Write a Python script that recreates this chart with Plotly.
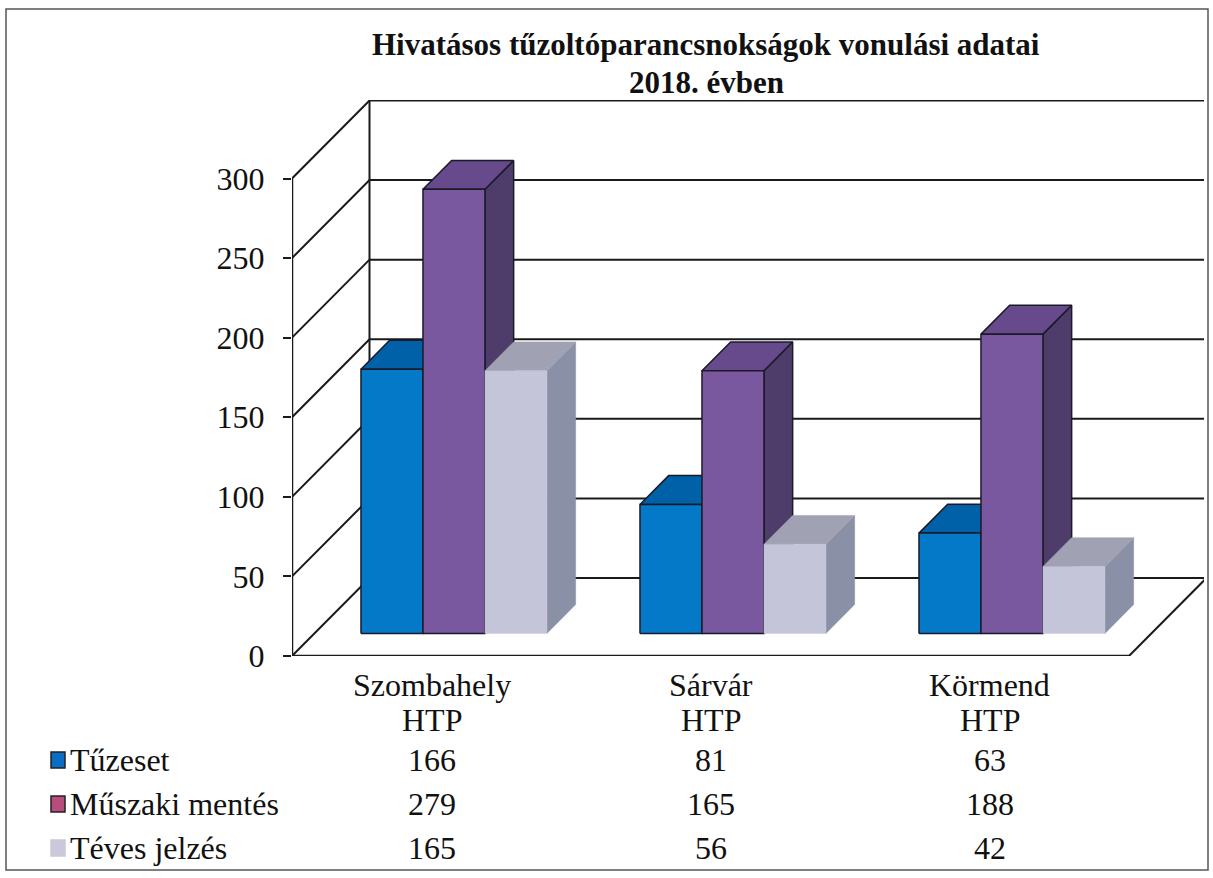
import plotly.graph_objects as go

# ---------------- data ----------------
categories = ["Szombahely", "Sárvár", "Körmend"]
category_line2 = ["HTP", "HTP", "HTP"]
series_names = ["Tűzeset", "Műszaki mentés", "Téves jelzés"]
tuzeset = [166, 81, 63]
muszaki_mentes = [279, 165, 188]
teves_jelzes = [165, 56, 42]
y_ticks = [0, 50, 100, 150, 200, 250, 300]
title_line1 = "Hivatásos tűzoltóparancsnokságok vonulási adatai"
title_line2 = "2018. évben"

series_values = [tuzeset, muszaki_mentes, teves_jelzes]

# ---------------- styling / geometry ----------------
W_FIG, H_FIG = 1213, 878
M_L, M_R, M_T, M_B = 292, 9, 100, 222
PLOT_W = W_FIG - M_L - M_R
PLOT_H = H_FIG - M_T - M_B
PX_PER_CAT = 279.0
PX_PER_VAL = 477.5 / 300.0
X_MIN = -0.5
X_MAX = X_MIN + PLOT_W / PX_PER_CAT
Y_MAX = PLOT_H / PX_PER_VAL

DX = 77.5 / PX_PER_CAT       # depth offset (x, data units)
DY = 78.0 / PX_PER_VAL       # depth offset (y, data units)
BAR_W = 62.0 / PX_PER_CAT
F0, F1 = 0.29, 0.66          # bar depth span (fractions of full depth)
G = F1 - F0

front_colors = ["#0479C8", "#7A58A0", "#C5C5DA"]
top_colors = ["#0060A8", "#664A8C", "#A1A1B4"]
side_colors = ["#004E8A", "#4E3D6B", "#8A90A6"]
edge_colors = ["#1b1b28", "#1b1b28", "rgba(0,0,0,0)"]
legend_colors = ["#0A6CC4", "#B84C7C", "#C9C9D9"]
GRID = "#1a1a1a"
SERIF = "Liberation Serif, Times New Roman, serif"
FS = 32


def px_to_paper_x(px):
    return (px - M_L) / PLOT_W


def px_to_paper_y(py):
    return (H_FIG - M_B - py) / PLOT_H


fig = go.Figure()

# ---------------- walls / grid ----------------
gx, gy = [], []
for v in y_ticks:
    gx += [X_MIN, X_MIN + DX, 2.5 + DX, None]
    gy += [v, v + DY, v + DY, None]
# back wall verticals
gx += [X_MIN + DX, X_MIN + DX, None, 2.5 + DX, 2.5 + DX, None]
gy += [DY, 300 + DY, None, DY, 300 + DY, None]
# floor right edge
gx += [2.5, 2.5 + DX, None]
gy += [0, DY, None]
fig.add_trace(go.Scatter(x=gx, y=gy, mode="lines",
                         line=dict(color=GRID, width=2),
                         hoverinfo="skip", showlegend=False))
# front axis line and floor front edge
fig.add_trace(go.Scatter(x=[X_MIN, X_MIN, None, X_MIN, 2.5],
                         y=[300, 0, None, 0, 0], mode="lines",
                         line=dict(color=GRID, width=2.5),
                         hoverinfo="skip", showlegend=False))

# ---------------- 3D bars ----------------
for j, vals in enumerate(series_values):
    fx, fy, tx, ty, sx, sy = [], [], [], [], [], []
    for i, v in enumerate(vals):
        x0 = i - 1.5 * BAR_W + j * BAR_W + F0 * DX
        x1 = x0 + BAR_W
        yb = F0 * DY
        yt = yb + v
        fx += [x0, x1, x1, x0, x0, None]
        fy += [yb, yb, yt, yt, yb, None]
        tx += [x0, x1, x1 + G * DX, x0 + G * DX, x0, None]
        ty += [yt, yt, yt + G * DY, yt + G * DY, yt, None]
        sx += [x1, x1, x1 + G * DX, x1 + G * DX, x1, None]
        sy += [yb, yt, yt + G * DY, yb + G * DY, yb, None]
    lw = 1.5 if j < 2 else 0.5
    for xs, ys, col in ((sx, sy, side_colors[j]), (tx, ty, top_colors[j]),
                        (fx, fy, front_colors[j])):
        fig.add_trace(go.Scatter(x=xs, y=ys, mode="lines", fill="toself",
                                 fillcolor=col,
                                 line=dict(color=edge_colors[j] if j < 2 else col, width=lw),
                                 hoverinfo="skip", showlegend=False,
                                 name=series_names[j]))

# ---------------- text ----------------
ann = []
ann.append(dict(x=px_to_paper_x(706), y=px_to_paper_y(45), xref="paper", yref="paper",
                text="<b>" + title_line1 + "</b>", showarrow=False,
                font=dict(family=SERIF, size=31, color="#111"), xanchor="center", yanchor="middle"))
ann.append(dict(x=px_to_paper_x(706), y=px_to_paper_y(83), xref="paper", yref="paper",
                text="<b>" + title_line2 + "</b>", showarrow=False,
                font=dict(family=SERIF, size=31, color="#111"), xanchor="center", yanchor="middle"))

for i, (c1, c2) in enumerate(zip(categories, category_line2)):
    ann.append(dict(x=i, y=px_to_paper_y(685), xref="x", yref="paper", text=c1,
                    showarrow=False, font=dict(family=SERIF, size=FS, color="#111"),
                    xanchor="center", yanchor="middle"))
    ann.append(dict(x=i, y=px_to_paper_y(720), xref="x", yref="paper", text=c2,
                    showarrow=False, font=dict(family=SERIF, size=FS, color="#111"),
                    xanchor="center", yanchor="middle"))

row_y = [760, 804, 848]
shapes = []
for j, name in enumerate(series_names):
    ann.append(dict(x=px_to_paper_x(68), y=px_to_paper_y(row_y[j]), xref="paper", yref="paper",
                    text=name, showarrow=False, font=dict(family=SERIF, size=FS, color="#111"),
                    xanchor="left", yanchor="middle"))
    shapes.append(dict(type="rect", xref="paper", yref="paper",
                       x0=px_to_paper_x(51), x1=px_to_paper_x(65),
                       y0=px_to_paper_y(row_y[j] + 8), y1=px_to_paper_y(row_y[j] - 8),
                       fillcolor=legend_colors[j],
                       line=dict(color="#222" if j < 2 else legend_colors[j], width=1.5)))
    for i, v in enumerate(series_values[j]):
        ann.append(dict(x=i, y=px_to_paper_y(row_y[j]), xref="x", yref="paper", text=str(v),
                        showarrow=False, font=dict(family=SERIF, size=FS, color="#111"),
                        xanchor="center", yanchor="middle"))

# outer frame
shapes.append(dict(type="rect", xref="paper", yref="paper",
                   x0=px_to_paper_x(6), x1=px_to_paper_x(1208),
                   y0=px_to_paper_y(870), y1=px_to_paper_y(9),
                   line=dict(color="#555", width=1.5), fillcolor="rgba(0,0,0,0)", layer="below"))

fig.update_layout(
    template="none",
    width=W_FIG, height=H_FIG,
    margin=dict(l=M_L, r=M_R, t=M_T, b=M_B, pad=0),
    paper_bgcolor="white", plot_bgcolor="white",
    showlegend=False,
    annotations=ann,
    shapes=shapes,
    xaxis=dict(range=[X_MIN, X_MAX], showgrid=False, zeroline=False, showline=False,
               showticklabels=False, ticks="", fixedrange=True, automargin=False),
    yaxis=dict(range=[0, Y_MAX], tickvals=y_ticks, ticktext=[str(t) for t in y_ticks],
               showgrid=False, zeroline=False, showline=False,
               ticks="outside", ticklen=8, tickwidth=2, tickcolor=GRID,
               ticklabelstandoff=12,
               tickfont=dict(family=SERIF, size=FS, color="#111"),
               fixedrange=True, automargin=False),
)

fig.write_html("out.html",
               config={"displayModeBar": False, "staticPlot": True},
               post_script="document.body.style.margin='0';document.body.style.overflow='hidden';")
